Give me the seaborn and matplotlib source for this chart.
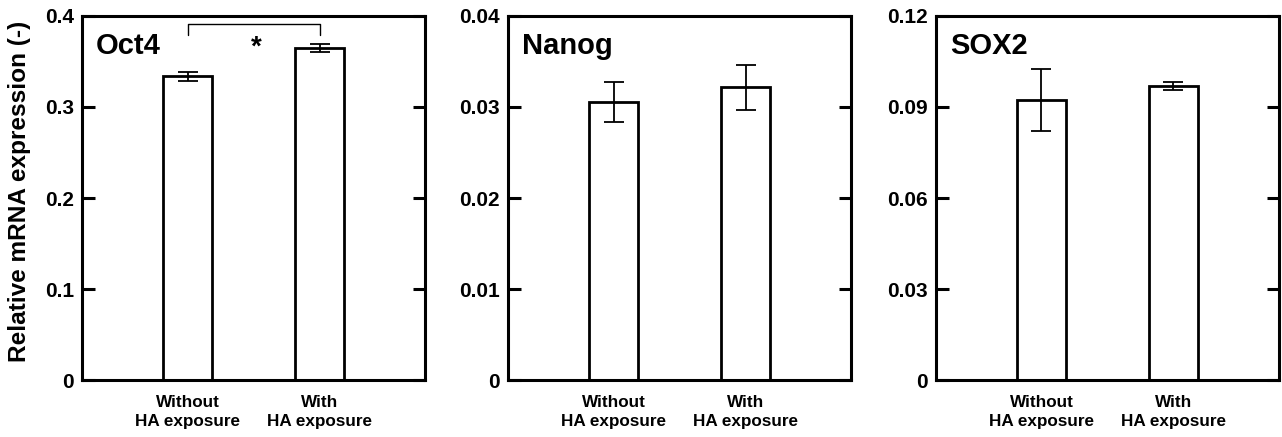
import matplotlib
matplotlib.use("Agg")
import matplotlib.pyplot as plt
import seaborn as sns
import pandas as pd

sns.set_theme(style="white")
plt.rcParams["font.family"] = ["Liberation Sans", "DejaVu Sans"]
plt.rcParams["font.weight"] = "bold"
plt.rcParams["text.color"] = "black"
plt.rcParams["axes.labelcolor"] = "black"
plt.rcParams["xtick.color"] = "black"
plt.rcParams["ytick.color"] = "black"

conditions = ["Without\nHA exposure", "With\nHA exposure"]
genes = ["Oct4", "Nanog", "SOX2"]
means = {
    "Oct4": [0.334, 0.3645],
    "Nanog": [0.03058, 0.03216],
    "SOX2": [0.0923, 0.0969],
}
errors = {
    "Oct4": [0.0050, 0.0045],
    "Nanog": [0.0022, 0.0025],
    "SOX2": [0.0102, 0.0013],
}
yticks = {
    "Oct4": [0, 0.1, 0.2, 0.3, 0.4],
    "Nanog": [0, 0.01, 0.02, 0.03, 0.04],
    "SOX2": [0, 0.03, 0.06, 0.09, 0.12],
}
ytick_labels = {
    "Oct4": ["0", "0.1", "0.2", "0.3", "0.4"],
    "Nanog": ["0", "0.01", "0.02", "0.03", "0.04"],
    "SOX2": ["0", "0.03", "0.06", "0.09", "0.12"],
}
# significance bracket between the two Oct4 bars
bracket_gene = "Oct4"
bracket_top = 0.391
bracket_end = 0.379
bracket_mark = "*"

fig = plt.figure(figsize=(12.82, 4.37), dpi=100)
lefts = [0.0642, 0.3965, 0.7301]
bottom, height, width = 0.1304, 0.833, 0.2673

for gene, left in zip(genes, lefts):
    ax = fig.add_axes([left, bottom, width, height])
    df = pd.DataFrame({"condition": conditions, "value": means[gene]})
    sns.barplot(data=df, x="condition", y="value", ax=ax, color="white",
                edgecolor="black", linewidth=2.0, width=0.375, errorbar=None,
                saturation=1)
    xs = [p.get_x() + p.get_width() / 2 for p in ax.patches]
    ax.errorbar(xs, means[gene], yerr=errors[gene], fmt="none",
                ecolor="black", elinewidth=1.3, capsize=7, capthick=1.3,
                zorder=1)
    ymax = yticks[gene][-1]
    ax.set_ylim(0, ymax)
    ax.set_xlim(-0.8, 1.8)
    ax.set_yticks(yticks[gene])
    ax.set_yticklabels(ytick_labels[gene], fontsize=15, fontweight="bold",
                       color="black")
    ax.tick_params(axis="y", direction="in", length=9, width=2.2,
                   left=True, right=True, pad=6, colors="black")
    ax.tick_params(axis="x", length=0, pad=11)
    for lab in ax.get_xticklabels():
        lab.set_fontsize(12.3)
        lab.set_fontweight("bold")
        lab.set_color("black")
        lab.set_linespacing(1.35)
    ax.set_xlabel("")
    ax.set_ylabel("")
    for s in ax.spines.values():
        s.set_visible(True)
        s.set_color("black")
        s.set_linewidth(2.2)
    ax.text(0.04, 0.957, gene, transform=ax.transAxes, fontsize=21,
            fontweight="bold", va="top", ha="left", color="black")
    if gene == bracket_gene:
        ax.plot([xs[0], xs[0], xs[1], xs[1]],
                [bracket_end, bracket_top, bracket_top, bracket_end],
                color="black", linewidth=1.0)
        ax.text((xs[0] + xs[1]) / 2 + 0.02, 0.365, bracket_mark,
                ha="center", va="center", fontsize=20, fontweight="bold",
                color="black")
        ax.set_ylabel("Relative mRNA expression (-)", fontsize=17.6,
                      fontweight="bold", color="black")
        ax.yaxis.set_label_coords(-0.151, 0.518)

fig.savefig("out.png", dpi=100)
